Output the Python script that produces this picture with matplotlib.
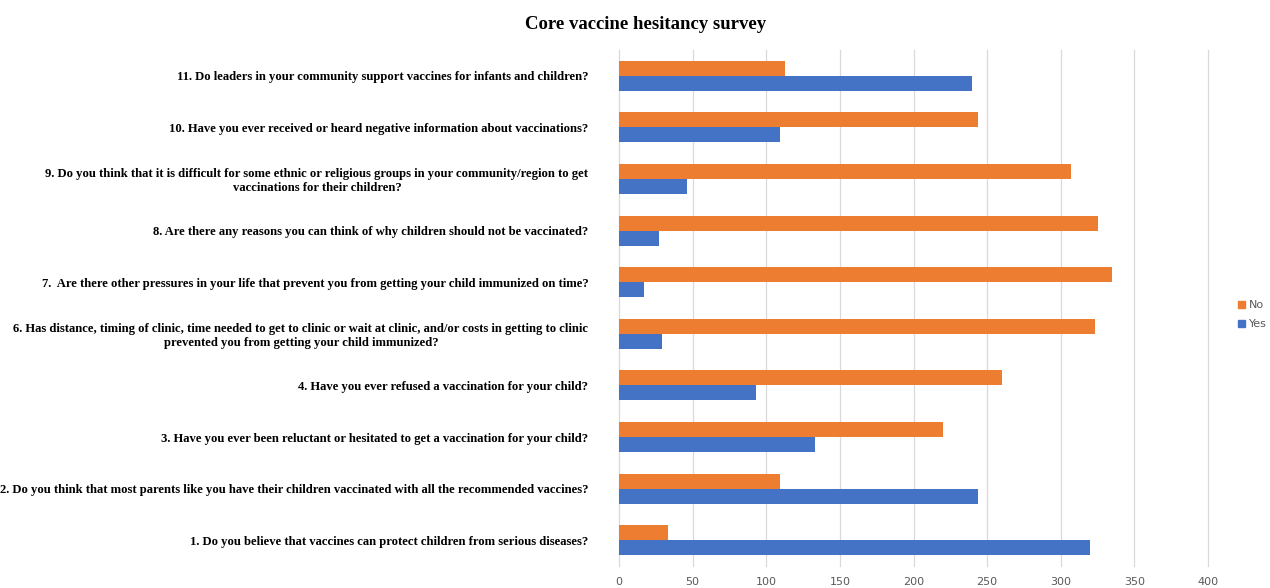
import numpy as np
import matplotlib.pyplot as plt
from matplotlib.patches import Patch

questions = [
    "1. Do you believe that vaccines can protect children from serious diseases?",
    "2. Do you think that most parents like you have their children vaccinated with all the recommended vaccines?",
    "3. Have you ever been reluctant or hesitated to get a vaccination for your child?",
    "4. Have you ever refused a vaccination for your child?",
    "6. Has distance, timing of clinic, time needed to get to clinic or wait at clinic, and/or costs in getting to clinic\nprevented you from getting your child immunized?",
    "7.  Are there other pressures in your life that prevent you from getting your child immunized on time?",
    "8. Are there any reasons you can think of why children should not be vaccinated?",
    "9. Do you think that it is difficult for some ethnic or religious groups in your community/region to get\nvaccinations for their children?",
    "10. Have you ever received or heard negative information about vaccinations?",
    "11. Do leaders in your community support vaccines for infants and children?",
]
yes = [320, 244, 133, 93, 29, 17, 27, 46, 109, 240]
no = [33, 109, 220, 260, 323, 335, 325, 307, 244, 113]

blue = "#4472C4"
orange = "#ED7D31"

fig = plt.figure(figsize=(12.7, 5.88), dpi=100)
ax = fig.add_axes([0.4874, 0.0374, 0.4638, 0.8776])

y = np.arange(len(questions))
h = 0.29
ax.barh(y + h / 2, no, h, color=orange, label="No")
ax.barh(y - h / 2, yes, h, color=blue, label="Yes")

ax.set_xlim(0, 400)
ax.set_ylim(-0.5, len(questions) - 0.5)
ax.set_xticks(np.arange(0, 401, 50))
ax.set_yticks(y)
ax.set_yticklabels(questions, fontfamily="Liberation Serif", fontweight="bold",
                   fontsize=9.1, multialignment="center")
ax.tick_params(axis="y", length=0, pad=22)
ax.tick_params(axis="x", length=0, pad=8, labelsize=8, labelcolor="#595959")
ax.grid(axis="x", color="#d9d9d9", linewidth=0.9)
for gl in ax.get_xgridlines():
    gl.set_clip_on(False)
ax.set_axisbelow(True)
for s in ax.spines.values():
    s.set_visible(False)

fig.text(0.508, 0.958, "Core vaccine hesitancy survey", ha="center", va="center",
         fontfamily="Liberation Serif", fontweight="bold", fontsize=13.5)

handles = [Patch(color=orange, label="No"), Patch(color=blue, label="Yes")]
fig.legend(handles=handles, loc="center left", bbox_to_anchor=(0.967, 0.465),
           frameon=False, fontsize=8, handlelength=0.6, handleheight=0.6,
           handletextpad=0.4, labelcolor="#595959", labelspacing=0.8)

fig.savefig("out.png", dpi=100)
